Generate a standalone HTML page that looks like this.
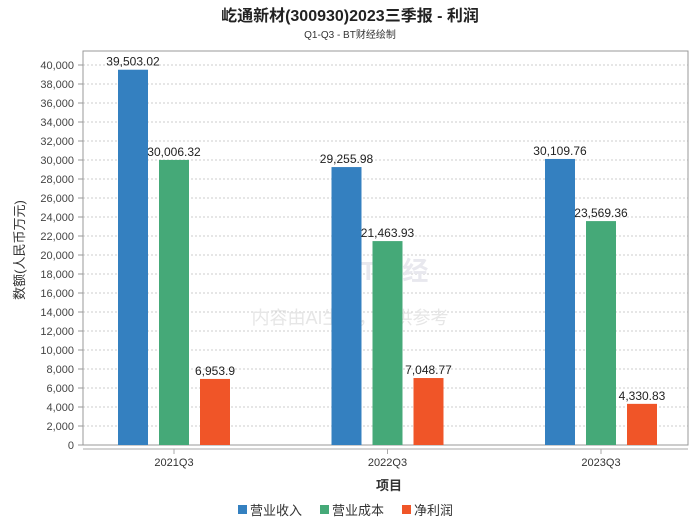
<!DOCTYPE html>
<html><head><meta charset="utf-8"><style>
body{margin:0;background:#fff;font-family:"Liberation Sans","Noto Sans CJK SC",sans-serif}
</style></head><body>
<svg width="700" height="524" xmlns="http://www.w3.org/2000/svg" font-family="Liberation Sans, Noto Sans CJK SC, sans-serif">
<text x="350" y="21" text-anchor="middle" font-size="16" font-weight="bold" fill="#222">屹通新材(300930)2023三季报 - 利润</text>
<text x="350" y="38" text-anchor="middle" font-size="10" fill="#333">Q1-Q3 - BT财经绘制</text>
<g id="grid"></g>
<rect x="83" y="51" width="605" height="394" fill="none" stroke="#999"/>
<line x1="83" y1="449" x2="688" y2="449" stroke="#aaa"/>
<text x="385" y="280" text-anchor="middle" font-size="26" font-weight="bold" fill="#e8e8ee">BT财经</text>
<text x="350" y="324" text-anchor="middle" font-size="18" fill="#e6e6e6">内容由AI生成，仅供参考</text>
<g id="bars"></g>
<text transform="translate(24,250) rotate(-90)" text-anchor="middle" font-size="13" fill="#333">数额(人民币万元)</text>
<text x="389" y="490" text-anchor="middle" font-size="13" font-weight="bold" fill="#333">项目</text>
<g>
<rect x="238" y="505" width="9" height="9" fill="#3480c0"/>
<text x="250" y="515" font-size="13" fill="#333">营业收入</text>
<rect x="320" y="505" width="9" height="9" fill="#45a978"/>
<text x="332" y="515" font-size="13" fill="#333">营业成本</text>
<rect x="402" y="505" width="9" height="9" fill="#f05528"/>
<text x="414" y="515" font-size="13" fill="#333">净利润</text>
</g>
</svg>
<script>
const categories=["2021Q3","2022Q3","2023Q3"];
const revenue=[39503.02,29255.98,30109.76];
const cost=[30006.32,21463.93,23569.36];
const profit=[6953.9,7048.77,4330.83];
const revenueLabels=["39,503.02","29,255.98","30,109.76"];
const costLabels=["30,006.32","21,463.93","23,569.36"];
const profitLabels=["6,953.9","7,048.77","4,330.83"];
const yTicks=[0,2000,4000,6000,8000,10000,12000,14000,16000,18000,20000,22000,24000,26000,28000,30000,32000,34000,36000,38000,40000];
const NS="http://www.w3.org/2000/svg";
const y=v=>445-v*380/40000;
const xc=i=>174+i*213.5;
const grid=document.getElementById('grid'),bars=document.getElementById('bars');
function mk(tag,attrs,parent){const e=document.createElementNS(NS,tag);for(const k in attrs)e.setAttribute(k,attrs[k]);parent.appendChild(e);return e;}
yTicks.forEach(t=>{
  const l=mk('line',{x1:83,x2:688,y1:y(t),y2:y(t),stroke:'#ccc','stroke-dasharray':'2,2'},grid);
  
  
  const tk=mk('line',{x1:78,x2:83,y1:y(t),y2:y(t),stroke:'#999'},grid);
  
  
  const tx=mk('text',{x:74,y:y(t)+4,'text-anchor':'end','font-size':11,fill:'#444'},grid);
  tx.textContent=t.toLocaleString('en-US');
  
  
});
const series=[[revenue,revenueLabels,'#3480c0',-41,'revenue'],[cost,costLabels,'#45a978',0,'cost'],[profit,profitLabels,'#f05528',41,'profit']];
categories.forEach((c,i)=>{
  const tx=mk('text',{x:xc(i),y:466,'text-anchor':'middle','font-size':11,fill:'#333'},bars);
  tx.textContent=c;
  
  
  const tk=mk('line',{x1:xc(i),x2:xc(i),y1:449,y2:454,stroke:'#aaa'},bars);
  
  
  series.forEach(s=>{
    const v=s[0][i],cx=xc(i)+s[3];
    const r=mk('rect',{x:cx-15,y:y(v),width:30,height:445-y(v),fill:s[2]},bars);
    
    
    const lb=mk('text',{x:cx,y:y(v)-4,'text-anchor':'middle','font-size':12,fill:'#222'},bars);
    lb.textContent=s[1][i];
    
    
  });
});
</script>
</body></html>
